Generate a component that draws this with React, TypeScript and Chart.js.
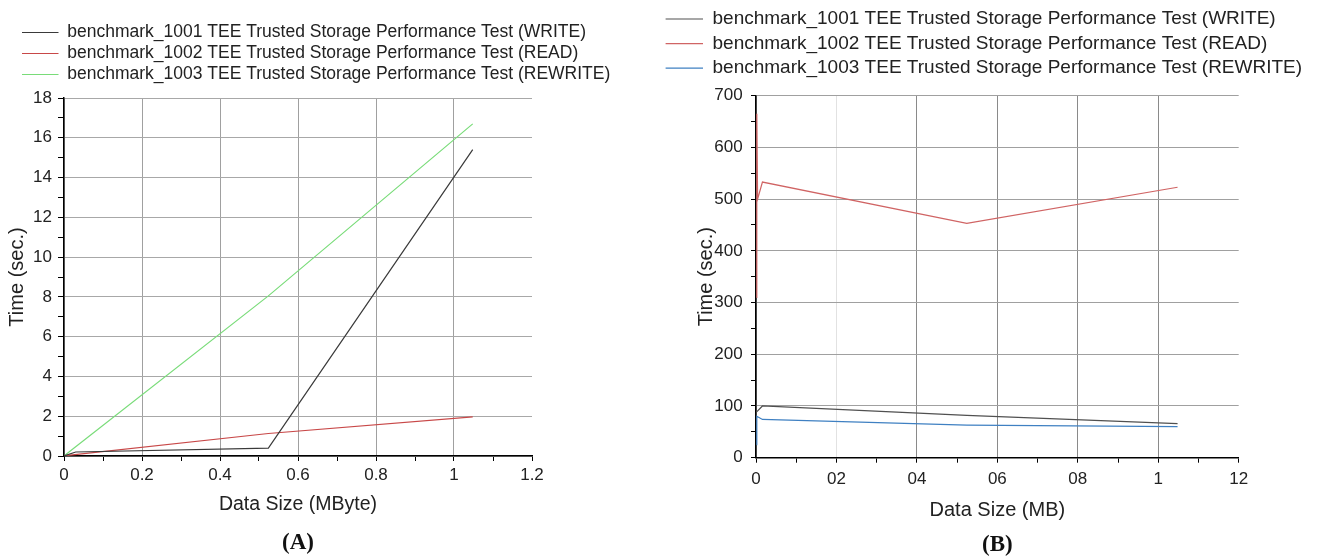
import React, { useEffect, useRef } from 'react';
import { Chart, registerables } from 'chart.js';

Chart.register(...registerables);

const SANS = "Arial, 'Liberation Sans', Helvetica, sans-serif";
const SERIF = "'Times New Roman', 'Liberation Serif', Times, serif";

// ---------- shared text ----------
const SERIES_NAMES = [
  'benchmark_1001 TEE Trusted Storage Performance Test (WRITE)',
  'benchmark_1002 TEE Trusted Storage Performance Test (READ)',
  'benchmark_1003 TEE Trusted Storage Performance Test (REWRITE)',
];
const Y_TITLE = 'Time (sec.)';

// ---------- panel A ----------
const A_WRITE_X = [0, 0.03, 0.524, 1.048];
const A_WRITE_Y = [0, 0.2, 0.4, 15.4];
const A_READ_X = [0, 0.016, 0.524, 1.048];
const A_READ_Y = [0, 0.04, 1.13, 1.97];
const A_REWRITE_X = [0, 0.016, 0.524, 1.048];
const A_REWRITE_Y = [0, 0.25, 8.05, 16.7];
const A_X_TICK_LABELS = ['0', '0.2', '0.4', '0.6', '0.8', '1', '1.2'];
const A_Y_TICK_LABELS = ['0', '2', '4', '6', '8', '10', '12', '14', '16', '18'];
const A_X_TITLE = 'Data Size (MByte)';
const A_PANEL = '(A)';

// ---------- panel B ----------
const B_WRITE_X = [0.001, 0.016, 0.524, 1.048];
const B_WRITE_Y = [88, 100, 82, 66];
const B_READ_X = [0.001, 0.002, 0.004, 0.016, 0.524, 1.048];
const B_READ_Y = [310, 665, 500, 533, 453, 523];
const B_REWRITE_X = [0.001, 0.002, 0.016, 0.524, 1.048];
const B_REWRITE_Y = [25, 80, 74, 63, 60];
const B_X_TICK_LABELS = ['0', '02', '04', '06', '08', '1', '12'];
const B_Y_TICK_LABELS = ['0', '100', '200', '300', '400', '500', '600', '700'];
const B_X_TITLE = 'Data Size (MB)';
const B_PANEL = '(B)';

const TRANSPARENT = 'rgba(0,0,0,0)';

const legendGap = (gap: number) => ({
  id: 'legendGap',
  beforeLayout(chart: any) {
    const lg = chart.legend;
    if (lg && !lg.__gapPatched) {
      const orig = lg.fit;
      lg.fit = function () {
        orig.call(this);
        this.height += gap;
      };
      lg.__gapPatched = true;
    }
  },
});

function buildConfig(P: any) {
  const toPts = (xs: number[], ys: number[]) => xs.map((x, i) => ({ x, y: ys[i] }));
  return {
    type: 'line',
    data: {
      datasets: P.series.map((s: any, i: number) => ({
        label: P.names[i],
        data: toPts(s.x, s.y),
        borderColor: s.color,
        backgroundColor: s.color,
        borderWidth: 1.2,
        pointRadius: 0,
        pointHoverRadius: 0,
        fill: false,
        tension: 0,
      })),
    },
    options: {
      responsive: false,
      animation: false,
      events: [],
      layout: { padding: P.pad },
      plugins: {
        legend: {
          display: true,
          position: 'top',
          align: 'start',
          labels: {
            usePointStyle: true,
            pointStyle: 'line',
            pointStyleWidth: P.legendLine,
            padding: P.legendPad,
            font: { family: SANS, size: P.legendFont },
            color: '#222',
          },
        },
        title: {
          display: true,
          text: P.panel,
          position: 'bottom',
          fullSize: false,
          color: '#111',
          font: { family: SERIF, size: 23, weight: 'bold' },
          padding: { top: P.panelPadTop, bottom: 0 },
        },
        tooltip: { enabled: false },
      },
      scales: {
        x: {
          type: 'linear',
          min: 0,
          max: 1.2,
          afterFit: (s: any) => {
            s.height = P.xHeight;
            s.paddingRight = P.plotRightGap;
          },
          grid: {
            color: (c: any) => {
              const v = c.tick ? c.tick.value : 0;
              const k = Math.round(v * 10);
              if (k % 2 !== 0 || k === 12) return TRANSPARENT;
              return P.xGrid[k / 2];
            },
            lineWidth: 1,
            tickColor: '#000',
            tickLength: 5,
            drawTicks: true,
          },
          border: { display: true, color: '#000', width: 1.5 },
          ticks: {
            stepSize: 0.1,
            autoSkip: false,
            maxRotation: 0,
            minRotation: 0,
            padding: P.xTickPad,
            color: '#222',
            font: { family: SANS, size: P.tickFont },
            callback: (v: any) => {
              const k = Math.round(Number(v) * 10);
              return k % 2 === 0 ? P.xTickLabels[k / 2] : '';
            },
          },
          title: {
            display: true,
            text: P.xTitle,
            color: '#222',
            font: { family: SANS, size: P.xTitleFont },
            padding: { top: 0, bottom: 0 },
          },
        },
        y: {
          type: 'linear',
          min: 0,
          max: P.yMax,
          afterFit: (s: any) => {
            s.width = P.yWidth;
          },
          grid: {
            color: (c: any) => {
              const v = c.tick ? c.tick.value : 0;
              const k = Math.round(v / P.yStep);
              return k % 2 === 0 ? P.yGrid : TRANSPARENT;
            },
            lineWidth: 1,
            tickColor: '#000',
            tickLength: P.yTickLen,
            drawTicks: true,
          },
          border: { display: true, color: '#000', width: 1.5 },
          ticks: {
            stepSize: P.yStep,
            autoSkip: false,
            padding: P.yTickPad,
            color: '#222',
            font: { family: SANS, size: P.tickFont },
            callback: (v: any) => {
              const k = Math.round(Number(v) / P.yStep);
              return k % 2 === 0 ? P.yTickLabels[k / 2] : '';
            },
          },
          title: {
            display: true,
            text: Y_TITLE,
            color: '#222',
            font: { family: SANS, size: 20 },
            padding: { top: P.yTitlePad, bottom: 0 },
          },
        },
      },
    },
    plugins: [legendGap(P.legendGap)],
  };
}

const PANEL_A = {
  series: [
    { x: A_WRITE_X, y: A_WRITE_Y, color: '#3a3a3a' },
    { x: A_READ_X, y: A_READ_Y, color: '#c84848' },
    { x: A_REWRITE_X, y: A_REWRITE_Y, color: '#79dc79' },
  ],
  names: SERIES_NAMES,
  panel: A_PANEL,
  xTitle: A_X_TITLE,
  xTickLabels: A_X_TICK_LABELS,
  yTickLabels: A_Y_TICK_LABELS,
  yMax: 18,
  yStep: 1,
  xGrid: ['#a0a0a0', '#a0a0a0', '#a0a0a0', '#a0a0a0', '#a0a0a0', '#a0a0a0'],
  yGrid: '#a8a8a8',
  pad: { top: 20.25, left: 18.5, right: 0, bottom: 3.2 },
  plotRightGap: 128,
  legendLine: 36.5,
  legendPad: 3.5,
  legendFont: 17.5,
  legendGap: 4.75,
  tickFont: 17,
  xTitleFont: 19.5,
  xHeight: 60.7,
  xTickPad: 3.8,
  yWidth: 45.5,
  yTickLen: 6,
  yTickPad: 6,
  yTitlePad: -13,
  panelPadTop: 12.5,
};

const PANEL_B = {
  series: [
    { x: B_WRITE_X, y: B_WRITE_Y, color: '#505050' },
    { x: B_READ_X, y: B_READ_Y, color: '#d06464' },
    { x: B_REWRITE_X, y: B_REWRITE_Y, color: '#3f80c2' },
  ],
  names: SERIES_NAMES,
  panel: B_PANEL,
  xTitle: B_X_TITLE,
  xTickLabels: B_X_TICK_LABELS,
  yTickLabels: B_Y_TICK_LABELS,
  yMax: 700,
  yStep: 50,
  xGrid: ['#888888', '#e2e2e2', '#8a8a8a', '#8a8a8a', '#8a8a8a', '#8a8a8a'],
  yGrid: '#a0a0a0',
  pad: { top: 3.9, left: 0, right: 0, bottom: 1.2 },
  plotRightGap: 104.3,
  legendLine: 37.4,
  legendPad: 5.6,
  legendFont: 19,
  legendGap: 8,
  tickFont: 17,
  xTitleFont: 20,
  xHeight: 64.3,
  xTickPad: 6.1,
  yWidth: 96,
  yTickLen: 5,
  yTickPad: 8.3,
  yTitlePad: 34,
  panelPadTop: 9.2,
};

function ChartPanel({ spec, left, width }: { spec: any; left: number; width: number }) {
  const ref = useRef<HTMLCanvasElement | null>(null);
  useEffect(() => {
    if (!ref.current) return;
    const chart = new Chart(ref.current, buildConfig(spec) as any);
    return () => chart.destroy();
  }, [spec]);
  return (
    <canvas
      ref={ref}
      width={width}
      height={560}
      style={{ position: 'absolute', left, top: 0, width, height: 560, display: 'block' }}
    />
  );
}

export default function App() {
  return (
    <div style={{ position: 'absolute', left: 0, top: 0, width: 1343, height: 560, background: '#fff', overflow: 'hidden' }}>
      <ChartPanel spec={PANEL_A} left={0} width={660} />
      <ChartPanel spec={PANEL_B} left={660} width={683} />
    </div>
  );
}
